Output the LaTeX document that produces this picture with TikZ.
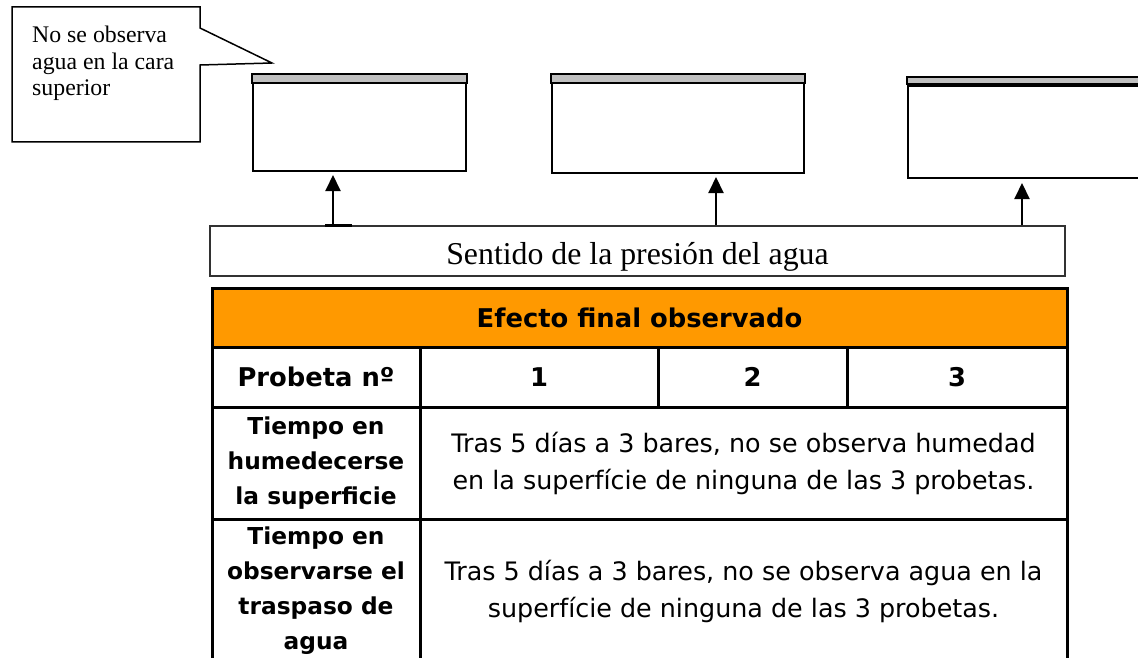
\documentclass[tikz,border=0pt]{standalone}
\usepackage{fontspec}
\setmainfont{Liberation Serif}
\newfontfamily\tah{DejaVu Sans}
\usetikzlibrary{arrows.meta,calc}
\definecolor{bandgray}{RGB}{192,192,192}
\definecolor{hdrorange}{RGB}{255,153,0}
\definecolor{boxline}{RGB}{50,50,50}
\begin{document}
\begin{tikzpicture}[x=1pt,y=-1pt,
  spec/.style={draw=black, line width=2pt, fill=white, anchor=north west, inner sep=0pt},
  bandbox/.style={draw=black, line width=2pt, fill=bandgray},
  arr/.style={line width=2pt, -{Triangle[length=16pt,width=15pt]}},
  cell/.style={draw=black, line width=3pt, inner sep=2pt, align=center},
  hfont/.style={font=\tah\bfseries\fontsize{25.8}{30}\selectfont},
  lfont/.style={font=\tah\bfseries\fontsize{23.3}{35}\selectfont},
  rfont/.style={font=\tah\fontsize{25.4}{37}\selectfont}]
\useasboundingbox (0,0) rectangle (1138,658);
\clip (0,0) rectangle (1138,658);
\fill[white] (0,0) rectangle (1138,658);

% callout
\draw[line width=1.5pt, fill=white] (12,7) -- (200,7) -- (200,28) -- (272,63) -- (200,65) -- (200,142) -- (12,142) -- cycle;
\node[anchor=north west, align=left, inner sep=0pt, font=\fontsize{23.8}{26.5}\selectfont] (callout) at (32,26) {No se observa\\agua en la cara\\superior};

% specimens
\node[spec, minimum width=213pt, minimum height=96pt] (p1) at (252,74) {};
\draw[bandbox] (p1.north west) rectangle ($(p1.north east)+(0,9)$);
\node[spec, minimum width=252pt, minimum height=98pt] (p2) at (551,74) {};
\draw[bandbox] (p2.north west) rectangle ($(p2.north east)+(0,9)$);
\node[spec, minimum width=260pt, minimum height=100pt] (p3) at (907,77) {};
\draw[bandbox] (p3.north west) rectangle ($(p3.north east)+(0,7)$);
\draw[line width=3.5pt] ($(p3.north west)+(0,8.5)$) -- ($(p3.north east)+(0,8.5)$);

% pressure box
\node[draw=boxline, line width=1.5pt, minimum width=855pt, minimum height=50pt, inner sep=0pt,
      text height=28pt, text depth=2pt,
      font=\fontsize{31.8}{36}\selectfont] (sent) at (637.5,251) {Sentido de la presión del agua};
\draw[line width=3pt] ($(sent.north west)+(116,0)$) -- ($(sent.north west)+(143,0)$);

\coordinate (x1) at (333,0);
\coordinate (x2) at (716,0);
\coordinate (x3) at (1022,0);
\draw[arr] (sent.north -| x1) -- ($(p1.south -| x1)+(0,3)$);
\draw[arr] (sent.north -| x2) -- ($(p2.south -| x2)+(0,3)$);
\draw[arr] (sent.north -| x3) -- ($(p3.south -| x3)+(0,4)$);

% table
\node[cell, fill=hdrorange, minimum width=855pt, minimum height=59pt, hfont] (hdr) at (639.5,317.5) {Efecto final observado};
\node[cell, minimum width=208pt, minimum height=60pt, hfont] (c0) at (316,377) {Probeta nº};
\node[cell, minimum width=238pt, minimum height=60pt, hfont] (c1) at (539,377) {1};
\node[cell, minimum width=189pt, minimum height=60pt, hfont] (c2) at (752.5,377) {2};
\node[cell, minimum width=220pt, minimum height=60pt, hfont] (c3) at (957,377) {3};
\node[cell, minimum width=208pt, minimum height=112pt, lfont] (l1) at (316,463) {Tiempo en\\humedecerse\\la superficie};
\node[cell, minimum width=647pt, minimum height=112pt, rfont] (r1) at (743.5,463) {Tras 5 días a 3 bares, no se observa humedad\\en la superfície de ninguna de las 3 probetas.};
\node[cell, minimum width=208pt, minimum height=144pt, lfont] (l2) at (316,591) {Tiempo en\\observarse el\\traspaso de\\agua};
\node[cell, minimum width=647pt, minimum height=144pt, rfont] (r2) at (743.5,591) {Tras 5 días a 3 bares, no se observa agua en la\\superfície de ninguna de las 3 probetas.};
\end{tikzpicture}
\end{document}
